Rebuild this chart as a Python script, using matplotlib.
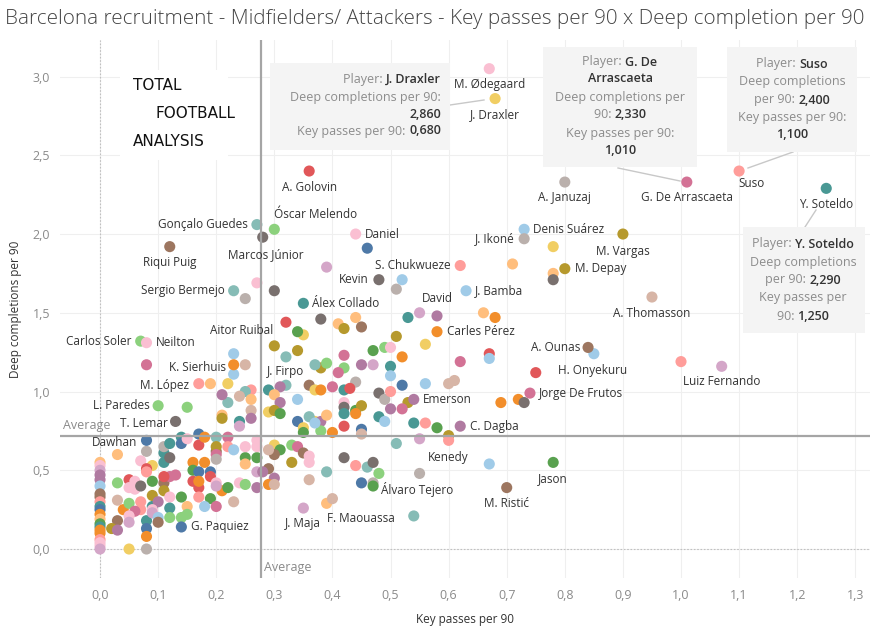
import matplotlib
matplotlib.use('Agg')
import matplotlib.pyplot as plt
from matplotlib.patches import Rectangle
from matplotlib.lines import Line2D
from matplotlib.ticker import MultipleLocator, FuncFormatter

plt.rcParams['font.family'] = ['Open Sans', 'DejaVu Sans']

# tableau 20 colours
PAL = {'B': '#4E79A7', 'LB': '#A0CBE8', 'O': '#F28E2B', 'LO': '#FFBE7D',
       'G': '#59A14F', 'LG': '#8CD17D', 'OL': '#B6992D', 'Y': '#F1CE63',
       'T': '#499894', 'LT': '#86BCB6', 'R': '#E15759', 'S': '#FF9D9A',
       'DG': '#79706E', 'GR': '#BAB0AC', 'M': '#D37295', 'P': '#FABFD2',
       'PU': '#B07AA1', 'LV': '#D4A6C8', 'BR': '#9D7660', 'TN': '#D7B5A6'}

# labelled players
players = ['M. Ødegaard', 'J. Draxler', 'A. Golovin', 'Óscar Melendo', 'Gonçalo Guedes',
           'Marcos Júnior', 'Daniel', 'Riqui Puig', 'Sergio Bermejo', 'Carlos Soler',
           'Neilton', 'Aitor Ruibal', 'K. Sierhuis', 'J. Firpo', 'M. López',
           'L. Paredes', 'T. Lemar', 'Dawhan', 'G. Paquiez', 'J. Maja',
           'F. Maouassa', 'Álvaro Tejero', 'Kenedy', 'Jason', 'M. Ristić',
           'C. Dagba', 'Emerson', 'Jorge De Frutos', 'H. Onyekuru', 'A. Ounas',
           'Luiz Fernando', 'Carles Pérez', 'David', 'J. Bamba', 'A. Thomasson',
           'M. Depay', 'M. Vargas', 'Denis Suárez', 'J. Ikoné', 'S. Chukwueze',
           'Kevin', 'Álex Collado', 'A. Januzaj', 'G. De Arrascaeta', 'Suso',
           'Y. Soteldo']
player_kp = [0.67, 0.68, 0.36, 0.30, 0.27, 0.28, 0.44, 0.12, 0.23, 0.07,
             0.08, 0.34, 0.23, 0.32, 0.17, 0.10, 0.13, 0.08, 0.14, 0.35,
             0.40, 0.47, 0.60, 0.78, 0.70, 0.62, 0.54, 0.74, 0.75, 0.84,
             1.07, 0.58, 0.58, 0.63, 0.95, 0.80, 0.90, 0.73, 0.73, 0.62,
             0.48, 0.35, 0.80, 1.01, 1.10, 1.25]
player_dc = [3.05, 2.86, 2.40, 2.03, 2.06, 1.98, 2.00, 1.92, 1.64, 1.32,
             1.31, 1.38, 1.17, 1.22, 1.05, 0.91, 0.81, 0.69, 0.14, 0.26,
             0.32, 0.40, 0.69, 0.55, 0.39, 0.78, 0.95, 0.99, 1.12, 1.28,
             1.16, 1.38, 1.48, 1.64, 1.60, 1.78, 2.00, 2.03, 1.97, 1.80,
             1.71, 1.56, 2.33, 2.33, 2.40, 2.29]
player_col = ['P', 'Y', 'R', 'LG', 'LT', 'DG', 'P', 'BR', 'LT', 'LG',
              'P', 'G', 'O', 'LT', 'S', 'LG', 'DG', 'B', 'B', 'LV',
              'TN', 'G', 'S', 'G', 'BR', 'PU', 'PU', 'M', 'R', 'BR',
              'LV', 'O', 'PU', 'LB', 'TN', 'OL', 'OL', 'LB', 'GR', 'S',
              'DG', 'T', 'GR', 'M', 'S', 'T']

# unlabelled players
others_kp = [0.46, 0.25, 0.27, 0.30, 0.39, 0.52, 0.51, 0.71, 0.78, 0.78,
             0.78, 0.55, 0.53, 0.66, 0.68, 0.56, 0.67, 0.67, 0.62, 0.85,
             1.00, 0.72, 0.73, 0.69, 0.53, 0.52, 0.60, 0.61, 0.56, 0.58,
             0.56, 0.54, 0.60, 0.55, 0.67, 0.55, 0.54, 0.47, 0.45, 0.48,
             0.46, 0.47, 0.44, 0.42, 0.39, 0.39, 0.36, 0.51,
             0.08, 0.23, 0.23, 0.25, 0.19, 0.22, 0.15, 0.32, 0.30, 0.34,
             0.35, 0.38, 0.41, 0.42, 0.44, 0.45, 0.38, 0.37, 0.39, 0.42,
             0.42, 0.41, 0.44, 0.45, 0.47, 0.47, 0.49, 0.50, 0.51, 0.52,
             0.50, 0.50, 0.36, 0.37, 0.38, 0.40, 0.42, 0.43, 0.34, 0.32,
             0.31, 0.29, 0.30, 0.31, 0.29, 0.42, 0.42, 0.44, 0.45, 0.48,
             0.49, 0.50, 0.52, 0.50, 0.22, 0.21, 0.21, 0.21, 0.24, 0.24,
             0.26, 0.25, 0.24, 0.26, 0.26, 0.26, 0.20, 0.30, 0.31, 0.34,
             0.35, 0.35, 0.37, 0.38, 0.38, 0.39, 0.40, 0.42, 0.42, 0.44,
             0.45, 0.45, 0.48, 0.49, 0.36, 0.37,
             0.30, 0.31, 0.30, 0.29, 0.33, 0.33, 0.34, 0.35, 0.36, 0.36,
             0.29, 0.27, 0.28, 0.30, 0.29, 0.30, 0.27,
             0.00, 0.00, 0.00, 0.00, 0.00, 0.00, 0.00, 0.00, 0.00, 0.00,
             0.00, 0.00, 0.00, 0.00, 0.00, 0.00, 0.00, 0.00, 0.00, 0.00,
             0.00,
             0.03, 0.08, 0.07, 0.09, 0.08, 0.08, 0.09, 0.03, 0.05, 0.06,
             0.05, 0.06, 0.07, 0.03, 0.04, 0.05, 0.07, 0.07, 0.06, 0.05,
             0.03, 0.02, 0.03, 0.05, 0.08, 0.08, 0.08, 0.08, 0.05, 0.09,
             0.09, 0.10, 0.09, 0.09, 0.10, 0.10, 0.11, 0.11, 0.12, 0.12,
             0.12, 0.12, 0.13, 0.11, 0.11, 0.11, 0.11, 0.12, 0.12, 0.14,
             0.14, 0.15, 0.14, 0.14, 0.15, 0.15, 0.17, 0.17, 0.18, 0.16,
             0.16, 0.17, 0.18, 0.16, 0.17, 0.17, 0.17, 0.19, 0.19, 0.19,
             0.18, 0.20, 0.20, 0.20, 0.20, 0.20, 0.20, 0.21, 0.22, 0.20,
             0.22, 0.22, 0.23, 0.24, 0.23, 0.25, 0.25, 0.25, 0.27, 0.25,
             0.27, 0.27]
others_dc = [1.91, 1.59, 1.69, 1.64, 1.79, 1.71, 1.65, 1.81, 1.92, 1.75,
             1.71, 1.50, 1.47, 1.50, 1.47, 1.30, 1.24, 1.21, 1.19, 1.24,
             1.19, 0.95, 0.93, 0.93, 0.93, 0.89, 1.05, 1.07, 1.05, 0.77,
             0.80, 0.80, 0.72, 0.70, 0.54, 0.48, 0.21, 0.42, 0.42, 0.48,
             0.52, 0.55, 0.53, 0.58, 0.29, 0.49, 0.44, 0.67,
             1.17, 1.24, 1.11, 1.17, 1.05, 1.05, 0.90, 1.44, 1.29, 1.26,
             1.36, 1.46, 1.43, 1.40, 1.47, 1.41, 1.15, 1.17, 1.18, 1.23,
             1.15, 1.12, 1.06, 1.17, 1.17, 1.26, 1.28, 1.28, 1.35, 1.22,
             1.16, 1.10, 1.04, 1.01, 1.01, 1.03, 1.01, 1.02, 0.95, 1.04,
             1.03, 1.01, 0.98, 0.93, 0.87, 0.93, 0.90, 0.88, 0.91, 0.99,
             0.95, 1.00, 1.04, 0.89, 0.93, 0.98, 0.85, 0.83, 0.81, 0.78,
             1.01, 1.00, 0.97, 0.95, 0.88, 0.83, 0.71, 0.88, 0.86, 0.81,
             0.77, 0.74, 0.81, 0.81, 0.75, 0.85, 0.74, 0.78, 0.86, 0.86,
             0.76, 0.73, 0.84, 0.81, 0.84, 0.80,
             0.66, 0.63, 0.60, 0.63, 0.66, 0.55, 0.65, 0.61, 0.59, 0.55,
             0.51, 0.49, 0.49, 0.45, 0.41, 0.41, 0.39,
             0.55, 0.53, 0.50, 0.47, 0.44, 0.40, 0.35, 0.33, 0.30, 0.27,
             0.25, 0.22, 0.19, 0.16, 0.14, 0.12, 0.10, 0.06, 0.04, 0.02,
             0.00,
             0.60, 0.62, 0.56, 0.53, 0.51, 0.49, 0.43, 0.42, 0.44, 0.43,
             0.39, 0.38, 0.40, 0.31, 0.25, 0.29, 0.30, 0.25, 0.24, 0.21,
             0.18, 0.13, 0.12, 0.17, 0.18, 0.13, 0.08, 0.00, 0.00, 0.34,
             0.27, 0.30, 0.25, 0.23, 0.20, 0.17, 0.42, 0.37, 0.33, 0.26,
             0.20, 0.46, 0.47, 0.46, 0.61, 0.65, 0.55, 0.58, 0.67, 0.71,
             0.67, 0.70, 0.33, 0.20, 0.27, 0.22, 0.73, 0.66, 0.71, 0.55,
             0.50, 0.49, 0.55, 0.43, 0.39, 0.33, 0.43, 0.49, 0.46, 0.32,
             0.27, 0.27, 0.62, 0.65, 0.60, 0.57, 0.42, 0.37, 0.39, 0.40,
             0.71, 0.65, 0.63, 0.42, 0.30, 0.58, 0.54, 0.41, 0.58, 0.65,
             0.65, 0.69]
others_col = ['B', 'GR', 'P', 'DG', 'LV', 'LB', 'GR', 'LO', 'Y', 'LO',
              'DG', 'LV', 'T', 'LO', 'O', 'Y', 'R', 'LB', 'M', 'LB',
              'S', 'O', 'DG', 'O', 'OL', 'M', 'TN', 'TN', 'LB', 'G',
              'S', 'T', 'OL', 'LV', 'LB', 'GR', 'LT', 'GR', 'B', 'LG',
              'LT', 'DG', 'S', 'DG', 'LO', 'LT', 'TN', 'LT',
              'M', 'LB', 'LB', 'TN', 'LO', 'Y', 'LG', 'R', 'OL', 'OL',
              'Y', 'DG', 'LO', 'OL', 'LO', 'BR', 'OL', 'LT', 'LG', 'M',
              'LG', 'M', 'GR', 'PU', 'LV', 'G', 'LG', 'P', 'OL', 'O',
              'T', 'LB', 'BR', 'Y', 'O', 'M', 'T', 'R', 'LB', 'LT',
              'PU', 'T', 'LO', 'PU', 'Y', 'P', 'DG', 'G', 'OL', 'DG',
              'GR', 'S', 'B', 'PU', 'LT', 'PU', 'LO', 'OL', 'T', 'LV',
              'S', 'LT', 'TN', 'LO', 'TN', 'PU', 'LT', 'OL', 'G', 'B',
              'Y', 'G', 'Y', 'PU', 'LG', 'LO', 'O', 'R', 'T', 'O',
              'B', 'TN', 'T', 'LB', 'LT', 'LB',
              'Y', 'G', 'BR', 'TN', 'LG', 'OL', 'M', 'BR', 'P', 'P',
              'BR', 'LV', 'PU', 'PU', 'O', 'TN', 'PU',
              'LO', 'P', 'LV', 'PU', 'PU', 'LB', 'BR', 'BR', 'S', 'T',
              'B', 'O', 'LO', 'G', 'T', 'O', 'O', 'S', 'P', 'P',
              'LV',
              'LO', 'GR', 'P', 'Y', 'R', 'S', 'G', 'LG', 'R', 'P',
              'P', 'P', 'DG', 'TN', 'O', 'LG', 'S', 'S', 'M', 'P',
              'BR', 'OL', 'PU', 'LV', 'T', 'B', 'O', 'GR', 'Y', 'OL',
              'T', 'PU', 'P', 'LV', 'LB', 'BR', 'BR', 'OL', 'P', 'T',
              'LG', 'M', 'M', 'R', 'T', 'GR', 'T', 'DG', 'T', 'T',
              'B', 'P', 'G', 'LG', 'LO', 'LG', 'B', 'R', 'O', 'O',
              'G', 'B', 'O', 'R', 'R', 'S', 'O', 'B', 'R', 'G',
              'LB', 'M', 'BR', 'OL', 'M', 'GR', 'P', 'O', 'G', 'LV',
              'M', 'S', 'LB', 'P', 'TN', 'G', 'LO', 'LG', 'G', 'P',
              'P', 'P']

avg_kp = 0.277
avg_dc = 0.717

# label placement: pixel offset from the dot and alignment
label_pos = {
    'M. Ødegaard': (0, -16, 'center'), 'J. Draxler': (0, -16, 'center'),
    'A. Golovin': (0, -16, 'center'), 'Óscar Melendo': (0, 15, 'left'),
    'Gonçalo Guedes': (-9, 0, 'right'), 'Marcos Júnior': (3, -17, 'center'),
    'Daniel': (9, 0, 'left'), 'Riqui Puig': (0, -16, 'center'),
    'Sergio Bermejo': (-9, 0, 'right'), 'Carlos Soler': (-9, 0, 'right'),
    'Neilton': (9, 0, 'left'), 'Aitor Ruibal': (-24, 1, 'right'),
    'K. Sierhuis': (-8, -3, 'right'), 'J. Firpo': (0, -15, 'center'),
    'M. López': (-10, -2, 'right'), 'L. Paredes': (-8, 0, 'right'),
    'T. Lemar': (-8, -2, 'right'), 'Dawhan': (-9, -2, 'right'),
    'G. Paquiez': (10, 0, 'left'), 'J. Maja': (0, -15, 'center'),
    'F. Maouassa': (-5, -20, 'left'), 'Álvaro Tejero': (8, -3, 'left'),
    'Kenedy': (0, -17, 'center'), 'Jason': (0, -16, 'center'),
    'M. Ristić': (0, -16, 'center'), 'C. Dagba': (10, 0, 'left'),
    'Emerson': (9, 0, 'left'), 'Jorge De Frutos': (9, 0, 'left'),
    'H. Onyekuru': (22, 2, 'left'), 'A. Ounas': (-8, 0, 'right'),
    'Luiz Fernando': (0, -15, 'center'), 'Carles Pérez': (10, 0, 'left'),
    'David': (0, 17, 'center'), 'J. Bamba': (9, 0, 'left'),
    'A. Thomasson': (0, -16, 'center'), 'M. Depay': (10, 0, 'left'),
    'M. Vargas': (0, -17, 'center'), 'Denis Suárez': (9, 0, 'left'),
    'J. Ikoné': (-9, 0, 'right'), 'S. Chukwueze': (-10, 0, 'right'),
    'Kevin': (-10, 0, 'right'), 'Álex Collado': (9, 0, 'left'),
    'A. Januzaj': (0, -15, 'center'), 'G. De Arrascaeta': (0, -15, 'center'),
    'Suso': (-1, -12, 'left'), 'Y. Soteldo': (0, -16, 'center'),
}

W, H = 887, 630
GREY_TXT = '#8c8c8c'
DARK_TXT = '#333333'


def fx(px):
    return px / W


def fy(py):
    return 1 - py / H


def fmt(v):
    return f"{v:.3f}".replace('.', ',')


def rich_line(fig, pieces, x, y, ha, size=9):
    # pieces: list of (text, bold)
    texts = []
    for s, bold in pieces:
        t = fig.text(0, 0, s, fontsize=size, va='center',
                     color=DARK_TXT if bold else GREY_TXT,
                     fontweight='semibold' if bold else 'normal')
        texts.append(t)
    r = fig.canvas.get_renderer()
    widths = [t.get_window_extent(r).width for t in texts]
    total = sum(widths)
    start = x - total if ha == 'right' else x - total / 2
    for t, w in zip(texts, widths):
        t.set_position((fx(start), fy(y)))
        start += w


def tooltip(fig, box, lines, x, ha, ys, link):
    x0, y0, x1, y1 = box
    fig.patches.append(Rectangle((fx(x0), fy(y1)), fx(x1 - x0), (y1 - y0) / H,
                                 transform=fig.transFigure, facecolor='#f4f4f4',
                                 edgecolor='none', zorder=2))
    fig.lines.append(Line2D([fx(link[0]), fx(link[2])], [fy(link[1]), fy(link[3])],
                            transform=fig.transFigure, color='#c8c8c8', lw=1, zorder=2))
    for pieces, yy in zip(lines, ys):
        rich_line(fig, pieces, x, yy, ha)


def main():
    fig = plt.figure(figsize=(8.87, 6.3), dpi=100)
    ax = fig.add_axes([60 / W, 52 / H, 810 / W, 538 / H])
    ax.set_xlim(-0.0689, 1.3253)
    ax.set_ylim(-0.184, 3.232)

    ax.xaxis.set_major_locator(MultipleLocator(0.1))
    ax.yaxis.set_major_locator(MultipleLocator(0.5))
    comma = FuncFormatter(lambda v, p: f"{v:.1f}".replace('.', ',').replace('-0,0', '0,0'))
    ax.xaxis.set_major_formatter(comma)
    ax.yaxis.set_major_formatter(comma)
    ax.tick_params(length=0, labelsize=9, labelcolor='#8a8a8a')
    ax.tick_params(axis='x', pad=8)
    ax.tick_params(axis='y', pad=7)
    ax.grid(color='#efefef', lw=0.8)
    ax.set_axisbelow(True)
    for sp in ax.spines.values():
        sp.set_visible(False)

    ax.axhline(0, color='#c0c0c0', lw=0.8, ls=(0, (1.5, 1.5)), zorder=1)
    ax.axvline(0, color='#c0c0c0', lw=0.8, ls=(0, (1.5, 1.5)), zorder=1)

    # dots
    ax.scatter(others_kp, others_dc, s=64, c=[PAL[c] for c in others_col],
               linewidths=0, zorder=3)
    ax.scatter(player_kp, player_dc, s=64, c=[PAL[c] for c in player_col],
               linewidths=0, zorder=4)

    # averages
    ax.axvline(avg_kp, color='#a5a5a5', lw=1.6, zorder=5)
    ax.axhline(avg_dc, color='#a5a5a5', lw=1.6, zorder=5)
    ax.annotate('Average', (0, avg_dc), xycoords=('axes fraction', 'data'),
                xytext=(2, 3), textcoords='offset points', fontsize=9,
                color='#8a8a8a', va='bottom', ha='left', zorder=6)
    ax.annotate('Average', (avg_kp, 0), xycoords=('data', 'axes fraction'),
                xytext=(2, 3), textcoords='offset points', fontsize=9,
                color='#8a8a8a', va='bottom', ha='left', zorder=6)

    # labels
    for name, x, y in zip(players, player_kp, player_dc):
        dx, dy, ha = label_pos[name]
        ax.annotate(name, (x, y), xytext=(dx * 0.72, dy * 0.72),
                    textcoords='offset points', ha=ha, va='center',
                    fontsize=8.5, color=DARK_TXT, zorder=7)

    ax.set_xlabel('Key passes per 90', fontsize=8.5, color=DARK_TXT, labelpad=8)
    ax.set_ylabel('Deep completions per 90', fontsize=8.5, color=DARK_TXT, labelpad=8)

    fig.text(fx(5), fy(19), 'Barcelona recruitment - Midfielders/ Attackers - '
             'Key passes per 90 x Deep completion per 90',
             fontsize=14.9, color='#444444', va='center', ha='left', fontweight='light')

    # logo
    fig.patches.append(Rectangle((fx(120), fy(160)), fx(108), 90 / H,
                                 transform=fig.transFigure, facecolor='white',
                                 edgecolor='none', zorder=2))
    for txt, px, py in [('TOTAL', 133, 86), ('FOOTBALL', 156, 113), ('ANALYSIS', 133, 141)]:
        fig.text(fx(px), fy(py), txt, fontsize=11, color='#111111', va='center',
                 ha='left', family='DejaVu Sans')

    # tooltips
    kp = dict(zip(players, player_kp))
    dc = dict(zip(players, player_dc))
    n = 'J. Draxler'
    tooltip(fig, (270, 63, 450, 150),
            [[('Player: ', False), (n, True)],
             [('Deep completions per 90:', False)],
             [(fmt(dc[n]), True)],
             [('Key passes per 90: ', False), (fmt(kp[n]), True)]],
            441, 'right', [79, 97, 114, 131], (450, 105, 484, 100))
    n = 'G. De Arrascaeta'
    tooltip(fig, (543, 47, 697, 167),
            [[('Player: ', False), ('G. De', True)],
             [('Arrascaeta', True)],
             [('Deep completions per', False)],
             [('90: ', False), (fmt(dc[n]), True)],
             [('Key passes per 90:', False)],
             [(fmt(kp[n]), True)]],
            620, 'center', [62, 79, 97, 114, 133, 151], (618, 168, 680, 181))
    n = 'Suso'
    tooltip(fig, (727, 47, 857, 152),
            [[('Player: ', False), (n, True)],
             [('Deep completions', False)],
             [('per 90: ', False), (fmt(dc[n]), True)],
             [('Key passes per 90:', False)],
             [(fmt(kp[n]), True)]],
            792, 'center', [64, 82, 100, 117, 134], (793, 152, 748, 168))
    n = 'Y. Soteldo'
    tooltip(fig, (743, 227, 865, 333),
            [[('Player: ', False), (n, True)],
             [('Deep completions', False)],
             [('per 90: ', False), (fmt(dc[n]), True)],
             [('Key passes per', False)],
             [('90: ', False), (fmt(kp[n]), True)]],
            803, 'center', [244, 262, 280, 298, 316], (805, 227, 816, 210))

    fig.savefig('out.png', dpi=100, facecolor='white')


if __name__ == "__main__":
    main()
